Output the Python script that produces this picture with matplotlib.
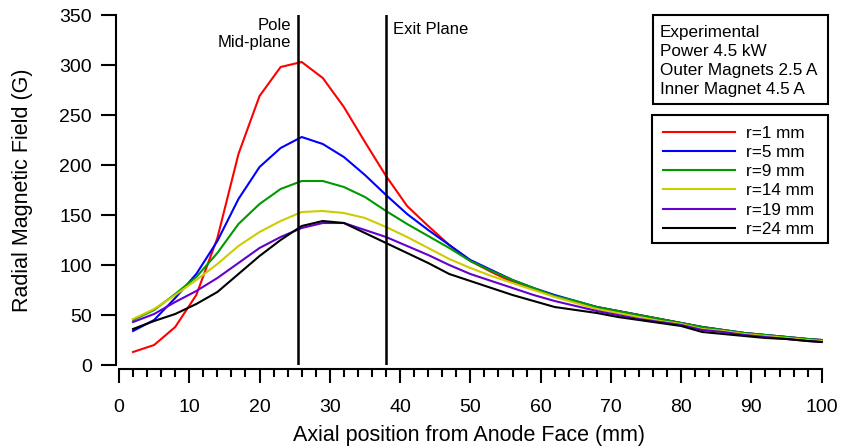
import matplotlib
matplotlib.use("Agg")
import matplotlib.pyplot as plt
from matplotlib.patches import Rectangle

plt.rcParams['font.family'] = ['Liberation Sans', 'DejaVu Sans']

# axial position (mm)
axial_mm = [2, 5, 8, 11, 14, 17, 20, 23, 26, 29, 32, 35, 38, 41, 44, 47, 50,
            53, 56, 59, 62, 65, 68, 71, 74, 77, 80, 83, 86, 89, 92, 95, 98, 100]

# radial field (G) per radius
r1 = [13, 20, 38, 70, 127, 211, 269, 298, 303, 287, 258, 223, 189, 159, 139, 120, 104,
      93, 83, 76, 69, 63, 58, 54, 50, 46, 42, 38, 35, 32, 30, 28, 26, 25]
r5 = [34, 45, 67, 91, 124, 166, 198, 217, 228, 221, 208, 190, 170, 151, 135, 120, 105,
      95, 85, 77, 70, 64, 58, 54, 50, 46, 42, 38, 35, 32, 30, 28, 26, 25]
r9 = [45, 55, 71, 88, 112, 141, 161, 176, 184, 184, 178, 168, 154, 141, 129, 117, 104,
      94, 85, 77, 69, 64, 58, 54, 50, 46, 42, 38, 35, 32, 30, 28, 26, 25]
r14 = [46, 56, 70, 85, 101, 119, 133, 144, 153, 154, 152, 147, 138, 128, 117, 106, 97,
       89, 82, 75, 68, 62, 56, 52, 48, 44, 41, 36, 34, 31, 29, 27, 25, 24]
r19 = [43, 51, 63, 74, 87, 102, 117, 128, 137, 142, 142, 135, 128, 119, 110, 100, 91,
       84, 77, 70, 64, 59, 54, 50, 46, 43, 40, 35, 33, 30, 28, 26, 24, 23]
r24 = [36, 44, 51, 61, 73, 91, 109, 125, 139, 144, 142, 132, 122, 112, 102, 91, 84,
       77, 70, 64, 58, 55, 52, 48, 45, 42, 39, 33, 31, 29, 27, 26, 24, 23]

series = [r1, r5, r9, r14, r19, r24]
labels = ["r=1 mm", "r=5 mm", "r=9 mm", "r=14 mm", "r=19 mm", "r=24 mm"]
colors = ["#ff0000", "#0000ff", "#009900", "#cccc00", "#6600cc", "#000000"]

pole_x = 25.5
exit_x = 38
info_lines = ["Experimental", "Power 4.5 kW", "Outer Magnets 2.5 A", "Inner Magnet 4.5 A"]

W, H = 842, 448
fig = plt.figure(figsize=(W / 100, H / 100), dpi=100)
ax = fig.add_axes([116 / W, 83 / H, 705.7 / W, 350 / H])

for y, lab, c in zip(series, labels, colors):
    ax.plot(axial_mm, y, color=c, lw=1.5, label=lab, clip_on=False)

ax.axvline(pole_x, color="black", lw=1.8)
ax.axvline(exit_x, color="black", lw=1.8)

ax.set_xlim(-0.427, 100)
ax.set_ylim(0, 350)
ax.set_xticks(range(0, 101, 10))
ax.set_xticks(range(0, 101, 2), minor=True)
ax.set_yticks(range(0, 351, 50))

for s in ["top", "right"]:
    ax.spines[s].set_visible(False)
ax.spines["left"].set_linewidth(1.5)
ax.spines["bottom"].set_linewidth(1.5)
ax.spines["bottom"].set_position(("outward", 2.9))
ax.spines["bottom"].set_bounds(0, 100)

ax.tick_params(axis="x", which="major", length=10.3, width=1.5, pad=11, labelsize=14)
ax.tick_params(axis="x", which="minor", length=5.5, width=1.5)
ax.tick_params(axis="y", which="major", length=10.8, width=1.5, pad=6.5, labelsize=14)

ax.set_xlabel("Axial position from Anode Face (mm)", fontsize=15.5)
ax.set_ylabel("Radial Magnetic Field (G)", fontsize=15.5)
ax.xaxis.set_label_coords(0.5, -0.172)
ax.yaxis.set_label_coords(-0.117, 0.5)

ax.text(pole_x - 1.0, 346.5, "Pole\nMid-plane", ha="right", va="top",
        fontsize=12, linespacing=1.15)
ax.text(exit_x + 1.0, 343, "Exit Plane", ha="left", va="top", fontsize=12)

# info box
fig.add_artist(Rectangle((653.3 / W, 1 - 104.3 / H), 175 / W, 89.3 / H,
                         transform=fig.transFigure, fill=False, ec="black", lw=1.5))
for i, t in enumerate(info_lines):
    fig.text(660 / W, 1 - (32.3 + 19 * i) / H, t, fontsize=12.3, va="center", ha="left")

# legend box
fig.add_artist(Rectangle((651.7 / W, 1 - 243.3 / H), 176.6 / W, 128.3 / H,
                         transform=fig.transFigure, fill=False, ec="black", lw=1.5))
fig.legend(loc="upper left", bbox_to_anchor=(663 / W, 1 - 125.5 / H),
           fontsize=12.3, frameon=False, handlelength=4.2, handletextpad=0.68,
           labelspacing=0.25, borderpad=0, borderaxespad=0)

fig.savefig("out.png", dpi=100)
